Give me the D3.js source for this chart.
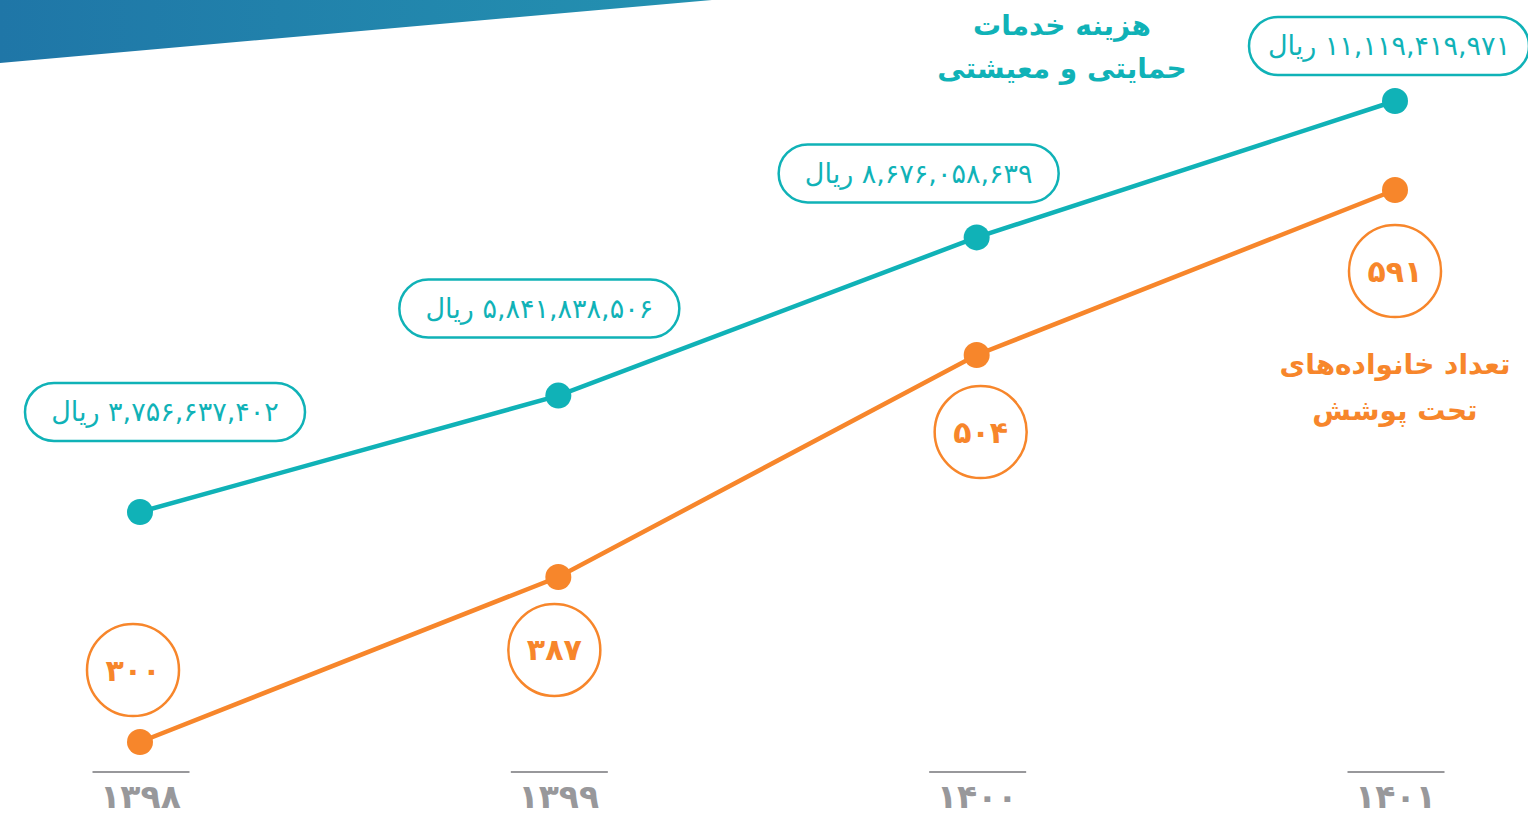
<!DOCTYPE html>
<html>
<head>
<meta charset="utf-8">
<script src="https://cdn.jsdelivr.net/npm/d3@7"></script>
<style>
  body { margin: 0; background: #fff; }
  text { font-family: "DejaVu Sans", "Noto Sans", sans-serif; }
</style>
</head>
<body>
<div id="chart"></div>
<script>
// years (Persian calendar)
var years = ["۱۳۹۸", "۱۳۹۹", "۱۴۰۰", "۱۴۰۱"];

// cost of support & living services (rial)
var costValues = [3756637402, 5841838506, 8676058639, 11119419971];
var costLabels = ["۳,۷۵۶,۶۳۷,۴۰۲ ریال", "۵,۸۴۱,۸۳۸,۵۰۶ ریال", "۸,۶۷۶,۰۵۸,۶۳۹ ریال", "۱۱,۱۱۹,۴۱۹,۹۷۱ ریال"];

// number of covered families
var familyValues = [300, 387, 504, 591];
var familyLabels = ["۳۰۰", "۳۸۷", "۵۰۴", "۵۹۱"];

var costTitle = ["هزینه خدمات", "حمایتی و معیشتی"];
var familyTitle = ["تعداد خانواده‌های", "تحت پوشش"];

const width = 1528, height = 816;
const teal = "#10b2b7", orange = "#f7862b", gray = "#98989b";

// label offsets from their point (layout only)
const pillOffset = [[25, -100], [-19, -87], [-58, -64], [-6, -55]];
const circleOffset = [[-7, -72], [-4, 73], [4, 77], [0, 81]];

const svg = d3.select("#chart")
  .append("svg")
    .attr("width", width)
    .attr("height", height);

// banner at the top left
const defs = svg.append("defs");
const grad = defs.append("linearGradient").attr("id", "band")
  .attr("x1", "0").attr("x2", "1").attr("y1", "0").attr("y2", "0");
grad.append("stop").attr("offset", "0").attr("stop-color", "#1f76a7");
grad.append("stop").attr("offset", "1").attr("stop-color", "#2492b1");
svg.append("path")
  .attr("d", "M0,0 L712,0 L0,63 Z")
  .attr("fill", "url(#band)");

// scales
const x = d3.scalePoint()
  .domain(years)
  .range([140, 1395]);

const yCost = d3.scaleLinear()
  .domain([3756637402, 11119419971])
  .range([512, 101]);

const yFam = d3.scaleLinear()
  .domain([300, 591])
  .range([742, 190]);

// x axis: short gray rule above each year label
const xAxis = d3.axisBottom(x).tickSize(0).tickPadding(0);
const ax = svg.append("g")
  .attr("transform", "translate(0,772)")
  .call(xAxis);
ax.select(".domain").remove();
ax.selectAll(".tick line").remove();
ax.selectAll(".tick").append("line")
  .attr("x1", -48).attr("x2", 49)
  .attr("stroke", gray).attr("stroke-width", 2);
ax.selectAll(".tick text")
  .attr("y", 36)
  .attr("dy", 0)
  .attr("fill", gray)
  .attr("font-size", 33)
  .attr("font-weight", "bold")
  .attr("font-family", "DejaVu Sans");

// lines
const costData = years.map(function(d, i) { return {year: d, v: costValues[i], label: costLabels[i]}; });
const famData = years.map(function(d, i) { return {year: d, v: familyValues[i], label: familyLabels[i]}; });

svg.append("path")
  .datum(costData)
  .attr("fill", "none")
  .attr("stroke", teal)
  .attr("stroke-width", 4.5)
  .attr("d", d3.line().x(function(d) { return x(d.year); }).y(function(d) { return yCost(d.v); }));

svg.append("path")
  .datum(famData)
  .attr("fill", "none")
  .attr("stroke", orange)
  .attr("stroke-width", 4.5)
  .attr("d", d3.line().x(function(d) { return x(d.year); }).y(function(d) { return yFam(d.v); }));

// points
svg.selectAll(".costDot").data(costData).join("circle")
  .attr("class", "costDot")
  .attr("cx", function(d) { return x(d.year); })
  .attr("cy", function(d) { return yCost(d.v); })
  .attr("r", 13)
  .attr("fill", teal);

svg.selectAll(".famDot").data(famData).join("circle")
  .attr("class", "famDot")
  .attr("cx", function(d) { return x(d.year); })
  .attr("cy", function(d) { return yFam(d.v); })
  .attr("r", 13)
  .attr("fill", orange);

// teal pill labels
const pills = svg.selectAll(".pill").data(costData).join("g")
  .attr("class", "pill")
  .attr("transform", function(d, i) {
    return `translate(${x(d.year) + pillOffset[i][0]},${yCost(d.v) + pillOffset[i][1]})`;
  });
pills.append("rect")
  .attr("x", -140).attr("y", -29)
  .attr("width", 280).attr("height", 58)
  .attr("rx", 29)
  .attr("fill", "#fff")
  .attr("stroke", teal)
  .attr("stroke-width", 2.5);
pills.append("text")
  .attr("text-anchor", "middle")
  .attr("direction", "rtl")
  .attr("dy", "0.35em")
  .attr("fill", teal)
  .attr("font-size", 27)
  .text(function(d) { return d.label; });

// orange circle labels
const rings = svg.selectAll(".ring").data(famData).join("g")
  .attr("class", "ring")
  .attr("transform", function(d, i) {
    return `translate(${x(d.year) + circleOffset[i][0]},${yFam(d.v) + circleOffset[i][1]})`;
  });
rings.append("circle")
  .attr("r", 46)
  .attr("fill", "#fff")
  .attr("stroke", orange)
  .attr("stroke-width", 2.5);
rings.append("text")
  .attr("text-anchor", "middle")
  .attr("dy", "0.35em")
  .attr("fill", orange)
  .attr("font-size", 30)
  .attr("font-weight", "bold")
  .text(function(d) { return d.label; });

// series titles
svg.append("text")
  .attr("x", 1062).attr("y", 25)
  .attr("text-anchor", "middle").attr("direction", "rtl")
  .attr("fill", teal).attr("font-size", 28).attr("font-weight", "bold")
  .selectAll("tspan").data(costTitle).join("tspan")
    .attr("x", 1062)
    .attr("dy", function(d, i) { return i === 0 ? "0.35em" : 43; })
    .text(function(d) { return d; });

svg.append("text")
  .attr("x", 1395).attr("y", 364)
  .attr("text-anchor", "middle").attr("direction", "rtl")
  .attr("fill", orange).attr("font-size", 28).attr("font-weight", "bold")
  .selectAll("tspan").data(familyTitle).join("tspan")
    .attr("x", 1395)
    .attr("dy", function(d, i) { return i === 0 ? "0.35em" : 46; })
    .text(function(d) { return d; });
</script>
</body>
</html>
